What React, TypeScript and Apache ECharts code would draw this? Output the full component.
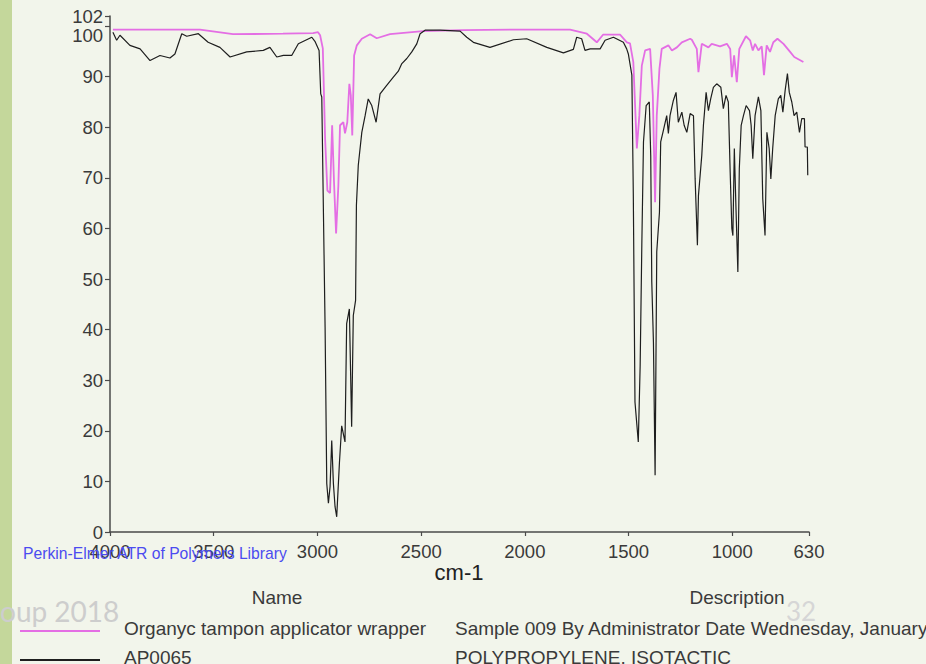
import { useEffect, useRef } from "react";
import * as echarts from "echarts";

const xTickValues = [4000, 3500, 3000, 2500, 2000, 1500, 1000, 630];
const yTickValues = [0, 10, 20, 30, 40, 50, 60, 70, 80, 90, 100, 102];

const wrapperWavenumber = [
  3986, 3566, 3407, 3166, 3021, 2997, 2987, 2974, 2963, 2952, 2939, 2929, 2920, 2910, 2899, 2891,
  2875, 2867, 2856, 2846, 2839, 2832, 2823, 2810, 2786, 2746, 2714, 2650, 2491, 2300, 2057, 1782,
  1701, 1653, 1623, 1541, 1508, 1493, 1477, 1460, 1448, 1436, 1420, 1396, 1383, 1372, 1364, 1351,
  1340, 1308, 1291, 1267, 1243, 1203, 1195, 1171, 1163, 1147, 1115, 1099, 1059, 1026, 1010, 1002,
  991, 978, 966, 934, 914, 901, 890, 874, 858, 847, 834, 818, 802, 782, 753, 721, 701, 657,
];
const wrapperTransmittance = [
  99.3, 99.3, 98.4, 98.5, 98.6, 98.8, 98.2, 95.6, 77.8, 67.5, 67.0, 80.4, 69.2, 59.0, 68.5, 80.4,
  81.0, 78.8, 81.0, 88.6, 86.3, 78.4, 94.2, 96.2, 97.5, 98.4, 97.6, 98.4, 99.0, 99.2, 99.3, 99.3,
  98.5, 96.8, 98.3, 98.3, 96.8, 96.6, 92.9, 75.8, 82.3, 92.2, 95.2, 95.5, 86.3, 65.2, 82.3, 91.6,
  95.5, 96.2, 95.2, 95.8, 96.8, 97.5, 97.3, 95.5, 90.9, 96.5, 95.8, 96.5, 96.0, 96.5, 95.5, 89.9,
  94.2, 88.9, 95.5, 98.0, 97.2, 95.2, 96.5, 95.2, 96.0, 90.3, 96.2, 94.9, 96.8, 97.5, 96.5, 94.9, 93.9, 92.9,
];

const ap0065Wavenumber = [
  3986, 3968, 3952, 3904, 3855, 3807, 3759, 3711, 3687, 3654, 3630, 3574, 3527, 3470, 3421, 3341,
  3261, 3229, 3196, 3164, 3124, 3092, 3027, 3012, 2992, 2984, 2979, 2963, 2955, 2947, 2939, 2931,
  2923, 2915, 2907, 2894, 2883, 2867, 2859, 2846, 2835, 2827, 2816, 2812, 2803, 2786, 2770, 2755,
  2738, 2717, 2698, 2666, 2634, 2610, 2593, 2569, 2545, 2521, 2505, 2481, 2409, 2312, 2280, 2248,
  2168, 2055, 1991, 1894, 1814, 1766, 1750, 1726, 1710, 1685, 1637, 1613, 1573, 1525, 1509, 1501,
  1484, 1477, 1469, 1453, 1444, 1436, 1428, 1415, 1400, 1393, 1388, 1380, 1372, 1364, 1351, 1345,
  1332, 1316, 1308, 1300, 1284, 1271, 1260, 1243, 1232, 1219, 1203, 1187, 1179, 1168, 1163, 1147,
  1139, 1126, 1115, 1104, 1091, 1075, 1055, 1043, 1030, 1019, 1010, 1002, 997, 990, 982, 973,
  966, 957, 946, 933, 917, 909, 901, 890, 874, 862, 853, 842, 833, 822, 814, 805,
  793, 778, 766, 756, 745, 734, 725, 713, 702, 689, 676, 665, 652, 649, 638, 636,
];
const ap0065Transmittance = [
  98.8, 97.2, 98.2, 96.2, 95.5, 93.2, 94.2, 93.7, 94.5, 98.5, 98.0, 98.5, 96.8, 95.8, 93.9, 94.9,
  95.2, 95.8, 93.9, 94.2, 94.2, 96.5, 97.8, 97.0, 95.2, 86.6, 86.0, 40.5, 9.6, 5.7, 9.0, 18.1,
  9.6, 5.0, 3.0, 13.6, 21.0, 17.8, 41.2, 44.1, 20.8, 42.8, 45.8, 64.6, 72.5, 79.0, 82.3, 85.6,
  84.3, 81.0, 86.6, 88.3, 89.9, 91.1, 92.6, 93.6, 94.9, 96.5, 98.5, 99.2, 99.2, 99.0, 97.8, 96.8,
  95.8, 97.3, 97.5, 95.8, 94.7, 95.4, 97.8, 97.5, 95.2, 95.5, 95.5, 97.2, 97.8, 96.8, 95.5, 94.5,
  90.3, 66.5, 25.7, 17.8, 32.9, 56.7, 77.1, 84.3, 85.0, 74.4, 49.4, 37.5, 11.2, 55.4, 63.2, 77.1,
  79.4, 82.3, 78.8, 82.3, 85.3, 86.9, 81.0, 83.0, 80.4, 79.0, 82.7, 82.3, 69.8, 56.7, 66.5, 74.4,
  80.4, 86.9, 83.3, 85.6, 87.9, 88.6, 87.9, 83.7, 86.3, 85.0, 71.1, 60.0, 58.6, 75.8, 63.9, 51.4,
  71.8, 80.4, 82.3, 84.3, 83.3, 80.4, 73.8, 82.3, 86.0, 83.3, 65.9, 58.6, 79.0, 75.8, 69.8, 75.8,
  82.3, 85.6, 86.3, 83.0, 87.3, 90.6, 86.9, 85.0, 82.3, 83.0, 79.0, 81.7, 81.7, 76.1, 76.1, 70.5,
];

const legendNames = ["Organyc tampon applicator wrapper", "AP0065"];
const legendDescriptions = [
  "Sample 009 By Administrator Date Wednesday, January",
  "POLYPROPYLENE, ISOTACTIC",
];
const seriesColors = ["#e46ee4", "#1e1e1e"];

const FONT = "Liberation Sans, Arial, sans-serif";
const AXIS_COLOR = "#4a4a4a";
const LABEL_COLOR = "#3a3a3a";

function zip(xs: number[], ys: number[]) {
  return xs.map((x, i) => [x, ys[i]]);
}

export default function App() {
  const ref = useRef<HTMLDivElement>(null);

  useEffect(() => {
    if (!ref.current) return;
    const chart = echarts.init(ref.current, undefined, { renderer: "svg" });

    const legendRowY = [628, 657];

    const graphic: any[] = [
      { type: "rect", z: 1, shape: { x: 0, y: 0, width: 12, height: 664 }, style: { fill: "#c4d79b" } },
      {
        type: "text", z: 5, x: 0, y: 611,
        style: { text: "oup 2018", fontSize: 28, fontFamily: "Lato, sans-serif", fill: "#cdcdcd", textAlign: "left", textVerticalAlign: "middle" },
      },
      {
        type: "text", z: 5, x: 801, y: 611,
        style: { text: "32", fontSize: 26, fontFamily: "Lato, sans-serif", fill: "#d6d6d6", textAlign: "center", textVerticalAlign: "middle" },
      },
      {
        type: "text", z: 10, x: 459, y: 572,
        style: { text: "cm-1", fontSize: 22, fontFamily: FONT, fill: "#222", textAlign: "center", textVerticalAlign: "middle" },
      },
      {
        type: "text", z: 10, x: 23, y: 553,
        style: { text: "Perkin-Elmer ATR of Polymers Library", fontSize: 15.7, fontFamily: FONT, fill: "#4b4bf0", textAlign: "left", textVerticalAlign: "middle" },
      },
      {
        type: "text", z: 10, x: 277, y: 597,
        style: { text: "Name", fontSize: 19, fontFamily: FONT, fill: LABEL_COLOR, textAlign: "center", textVerticalAlign: "middle" },
      },
      {
        type: "text", z: 10, x: 737, y: 597,
        style: { text: "Description", fontSize: 19, fontFamily: FONT, fill: LABEL_COLOR, textAlign: "center", textVerticalAlign: "middle" },
      },
    ];
    legendNames.forEach((name, i) => {
      const y = legendRowY[i];
      graphic.push({
        type: "line", z: 10,
        shape: { x1: 20, y1: y + 3, x2: 100, y2: y + 3 },
        style: { stroke: seriesColors[i], lineWidth: 2 },
      });
      graphic.push({
        type: "text", z: 10, x: 124, y,
        style: { text: name, fontSize: 19, fontFamily: FONT, fill: LABEL_COLOR, textAlign: "left", textVerticalAlign: "middle" },
      });
      graphic.push({
        type: "text", z: 10, x: 455, y,
        style: { text: legendDescriptions[i], fontSize: 19, fontFamily: FONT, fill: LABEL_COLOR, textAlign: "left", textVerticalAlign: "middle" },
      });
    });

    chart.setOption({
      animation: false,
      backgroundColor: "#f2f5eb",
      grid: { left: 110, right: 117, top: 16, bottom: 132, containLabel: false },
      xAxis: {
        type: "value",
        inverse: true,
        min: 630,
        max: 4000,
        axisLine: { show: true, onZero: false, lineStyle: { color: AXIS_COLOR, width: 1.5 } },
        axisTick: { show: true, customValues: xTickValues, length: 4, lineStyle: { color: AXIS_COLOR, width: 1.2 } },
        axisLabel: {
          customValues: xTickValues,
          margin: 10,
          fontSize: 18.5,
          fontFamily: FONT,
          color: LABEL_COLOR,
          formatter: (v: number) => String(v),
        },
        splitLine: { show: false },
      },
      yAxis: {
        type: "value",
        min: 0,
        max: 102,
        axisLine: { show: true, onZero: false, lineStyle: { color: AXIS_COLOR, width: 1.5 } },
        axisTick: { show: true, customValues: yTickValues, length: 5, lineStyle: { color: AXIS_COLOR, width: 1.2 } },
        axisLabel: {
          customValues: yTickValues,
          margin: 7,
          fontSize: 18.5,
          fontFamily: FONT,
          color: LABEL_COLOR,
          formatter: (v: number) => (v === 100 ? "{low|100}" : String(v)),
          rich: {
            low: { fontSize: 18.5, fontFamily: FONT, color: LABEL_COLOR, padding: [19, 0, 0, 0] },
          },
        },
        splitLine: { show: false },
      },
      series: [
        {
          type: "line",
          name: legendNames[0],
          data: zip(wrapperWavenumber, wrapperTransmittance),
          symbol: "none",
          lineStyle: { color: seriesColors[0], width: 1.8 },
          z: 2,
        },
        {
          type: "line",
          name: legendNames[1],
          data: zip(ap0065Wavenumber, ap0065Transmittance),
          symbol: "none",
          lineStyle: { color: seriesColors[1], width: 1.2 },
          z: 3,
        },
      ],
      graphic,
    });

    return () => chart.dispose();
  }, []);

  return (
    <div
      ref={ref}
      style={{ position: "fixed", left: 0, top: 0, width: 926, height: 664, background: "#f2f5eb" }}
    />
  );
}
